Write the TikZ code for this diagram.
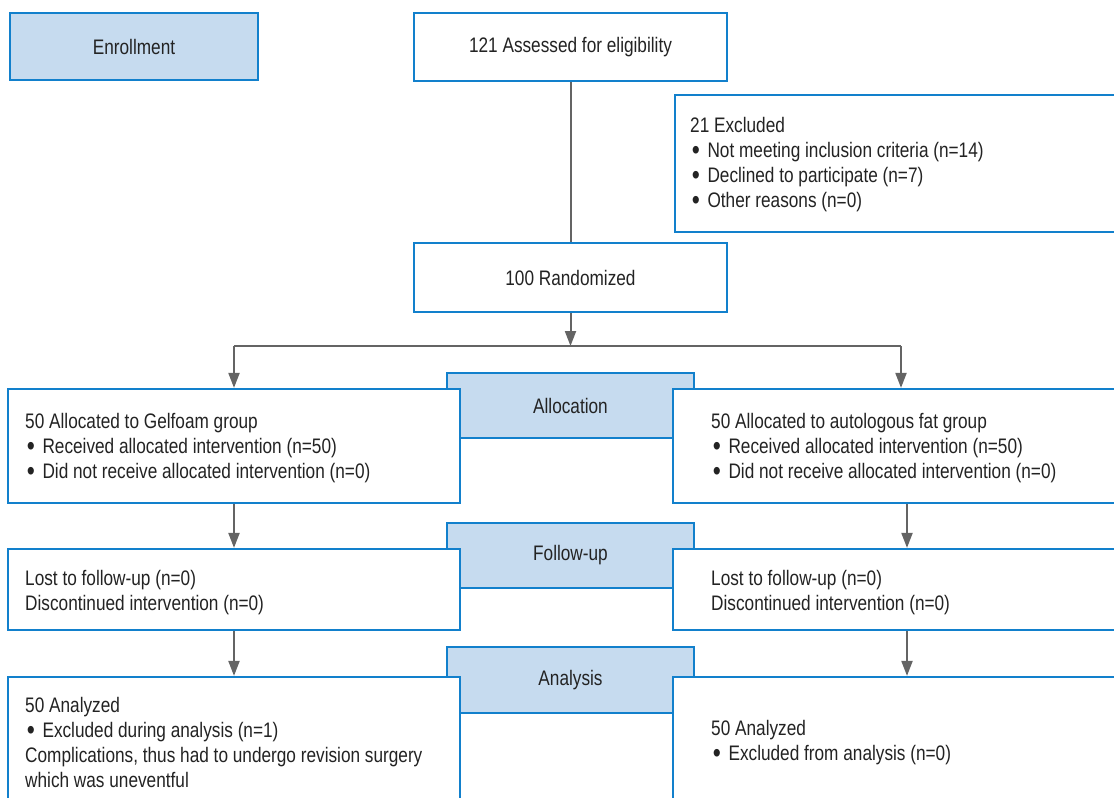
\documentclass[tikz,border=0pt]{standalone}
\usepackage{fontspec}
\setmainfont{Liberation Sans}[FakeStretch=0.82]
\usetikzlibrary{arrows.meta}
\definecolor{bblue}{RGB}{18,128,204}
\definecolor{bfill}{RGB}{198,219,239}
\definecolor{agray}{RGB}{100,100,100}
\definecolor{tgray}{RGB}{35,35,35}
\newcommand\bul{\kern1.7pt\raisebox{-1.8pt}[0pt][0pt]{\fontsize{28}{25}\selectfont•}\kern7.6pt}
\begin{document}
\begin{tikzpicture}[x=1pt,y=-1pt,
  box/.style={draw=bblue,line width=2.2pt,fill=white,inner sep=0pt,text=tgray,font=\fontsize{21}{25}\selectfont},
  tab/.style={box,fill=bfill},
  txt/.style={anchor=west,align=left,inner sep=0pt,text=tgray,font=\fontsize{21}{25}\selectfont},
  conn/.style={draw=agray,line width=2pt},
  arr/.style={conn,-{Triangle[width=11pt 0 0,length=15pt 0 0]}}]
\useasboundingbox (0,0) rectangle (1114,798);
\clip (0,0) rectangle (1114,798);
% top
\node[tab,minimum width=248pt,minimum height=67pt] (enr) at (134,46.5) {Enrollment};
\node[box,minimum width=313pt,minimum height=68pt] (ass) at (570.5,47) {121 Assessed for eligibility};
\node[box,minimum width=450pt,minimum height=137pt] (exc) at (900,163.5) {};
\node[txt] (exct) at (690,165) {21 Excluded\\\bul Not meeting inclusion criteria (n=14)\\\bul Declined to participate (n=7)\\\bul Other reasons (n=0)};
\node[box,minimum width=313pt,minimum height=69pt] (rand) at (570.5,277.5) {100 Randomized};
% tabs
\node[tab,minimum width=247pt,minimum height=65pt] (tabA) at (570.5,405.5) {Allocation};
\node[tab,minimum width=247pt,minimum height=65pt] (tabF) at (570.5,555.5) {Follow-up};
\node[tab,minimum width=247pt,minimum height=66pt] (tabN) at (570.5,680) {Analysis};
% allocation
\node[box,minimum width=452pt,minimum height=114pt] (allocL) at (234,446) {};
\node[txt] (allocLt) at (25,448) {50 Allocated to Gelfoam group\\\bul Received allocated intervention (n=50)\\\bul Did not receive allocated intervention (n=0)};
\node[box,minimum width=452pt,minimum height=114pt] (allocR) at (899,446) {};
\node[txt] (allocRt) at (711,448) {50 Allocated to autologous fat group\\\bul Received allocated intervention (n=50)\\\bul Did not receive allocated intervention (n=0)};
% follow-up
\node[box,minimum width=452pt,minimum height=81pt] (follL) at (234,589.5) {};
\node[txt] (follLt) at (25,592.5) {Lost to follow-up (n=0)\\Discontinued intervention (n=0)};
\node[box,minimum width=452pt,minimum height=81pt] (follR) at (899,589.5) {};
\node[txt] (follRt) at (711,592.5) {Lost to follow-up (n=0)\\Discontinued intervention (n=0)};
% analysis
\node[box,minimum width=452pt,minimum height=126pt] (anaL) at (234,740) {};
\node[txt] (anaLt) at (25,742.5) {50 Analyzed\\\bul Excluded during analysis (n=1)\\Complications, thus had to undergo revision surgery\\which was uneventful};
\node[box,minimum width=452pt,minimum height=126pt] (anaR) at (899,740) {};
\node[txt] (anaRt) at (711,742.5) {50 Analyzed\\\bul Excluded from analysis (n=0)};
% connectors
\draw[conn] (ass.south) -- (rand.north);
\coordinate (split) at (570.5,346);
\coordinate (sl) at (234,346);
\coordinate (sr) at (901,346);
\draw[arr] (rand.south) -- (split);
\draw[conn] (sl) -- (sr);
\draw[arr] (sl) -- (sl |- allocL.north);
\draw[arr] (sr) -- (sr |- allocR.north);
\draw[arr] (allocL.south) -- (follL.north);
\draw[arr] ([xshift=8pt]allocR.south) -- ([xshift=8pt]follR.north);
\draw[arr] (follL.south) -- (anaL.north);
\draw[arr] ([xshift=8pt]follR.south) -- ([xshift=8pt]anaR.north);
\end{tikzpicture}
\end{document}
